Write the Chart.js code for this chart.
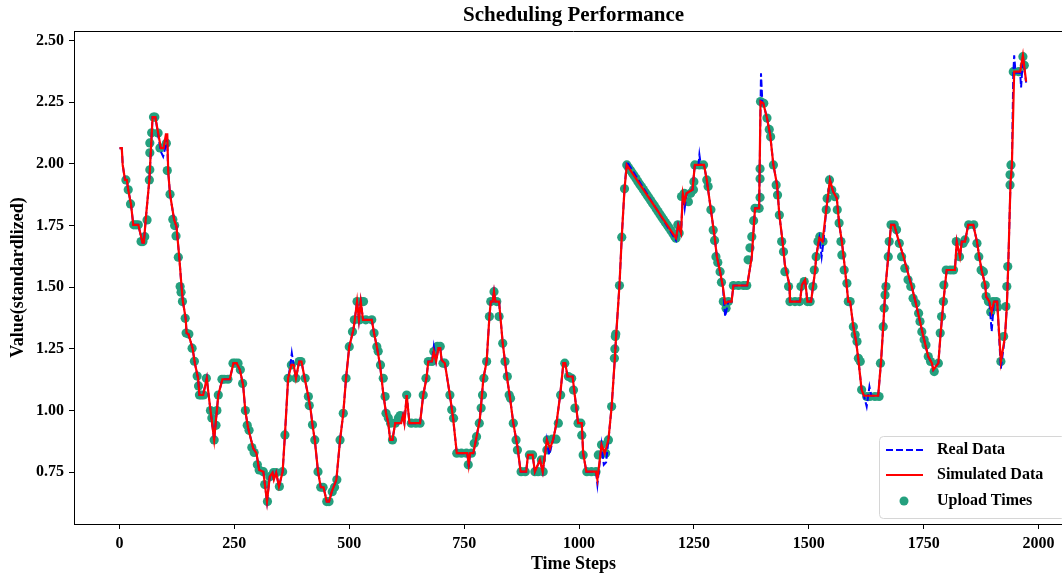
<!DOCTYPE html>
<html><head><meta charset="utf-8">
<script src="https://cdn.jsdelivr.net/npm/chart.js@4"></script>
<style>html,body{margin:0;padding:0;overflow:hidden;background:#fff;width:1062px;height:576px}#wrap{width:1080px;height:576px}</style>
</head><body><div id="wrap"><canvas id="c" width="1080" height="576"></canvas></div>
<script>
const TITLE = 'Scheduling Performance';
const X_LABEL = 'Time Steps';
const Y_LABEL = 'Value(standardlized)';
const xTicks = [0, 250, 500, 750, 1000, 1250, 1500, 1750, 2000];
const yTicks = [0.75, 1.00, 1.25, 1.50, 1.75, 2.00, 2.25, 2.50];

// [time step, value]
const simulatedData = [
[0,2.064],[5,2.064],[7,1.996],[12,1.935],[16,1.935],[19,1.895],[25,1.837],[30,1.753],[41,1.753],[50,1.681],[53,1.681],[57,1.773],[65,1.935],[72,2.19],[78,2.19],[90,2.064],[96,2.064],[101,2.12],[104,2.12],[106,1.969],[110,1.877],[119,1.773],[124,1.746],[130,1.624],[135,1.503],[138,1.442],[144,1.374],[146,1.314],[150,1.31],[159,1.253],[164,1.192],[171,1.131],[174,1.063],[182,1.063],[190,1.131],[194,1.063],[206,0.881],[215,1.063],[224,1.127],[240,1.127],[248,1.192],[255,1.192],[262,1.165],[269,1.104],[274,0.996],[280,0.928],[291,0.847],[298,0.827],[304,0.759],[313,0.752],[321,0.631],[327,0.732],[333,0.748],[336,0.72],[341,0.748],[347,0.692],[355,0.752],[360,0.901],[367,1.131],[374,1.185],[379,1.185],[384,1.131],[391,1.199],[396,1.199],[403,1.131],[411,1.057],[416,1.003],[420,0.942],[425,0.881],[432,0.752],[438,0.689],[444,0.689],[451,0.631],[456,0.631],[462,0.671],[472,0.719],[480,0.881],[487,0.989],[493,1.131],[500,1.259],[509,1.327],[512,1.368],[517,1.442],[521,1.368],[525,1.442],[530,1.368],[549,1.368],[554,1.314],[560,1.259],[567,1.185],[574,1.070],[580,0.989],[585,0.949],[589,0.881],[594,0.881],[600,0.949],[613,0.949],[617,0.98],[620,0.949],[625,1.063],[631,0.949],[654,0.949],[661,1.063],[668,1.131],[672,1.199],[680,1.199],[684,1.239],[689,1.20],[694,1.253],[698,1.253],[701,1.205],[708,1.192],[719,1.063],[726,0.969],[734,0.827],[757,0.827],[760,0.78],[763,0.827],[770,0.827],[777,0.894],[784,0.962],[792,1.131],[799,1.199],[805,1.381],[808,1.442],[812,1.442],[815,1.482],[818,1.442],[826,1.442],[834,1.273],[843,1.138],[850,1.050],[857,0.949],[866,0.854],[873,0.752],[885,0.752],[889,0.82],[899,0.82],[904,0.752],[915,0.80],[921,0.752],[930,0.881],[937,0.847],[944,0.884],[951,0.949],[959,1.063],[966,1.192],[970,1.192],[975,1.138],[986,1.138],[998,0.949],[1006,0.949],[1009,0.827],[1016,0.752],[1037,0.752],[1040,0.72],[1049,0.861],[1056,0.827],[1064,0.881],[1071,1.016],[1078,1.212],[1081,1.31],[1088,1.507],[1093,1.703],[1099,1.899],[1104,1.996],[1211,1.699],[1216,1.753],[1222,1.72],[1226,1.881],[1230,1.847],[1234,1.881],[1247,1.895],[1252,1.996],[1272,1.996],[1278,1.935],[1287,1.814],[1295,1.705],[1300,1.624],[1307,1.563],[1313,1.503],[1318,1.435],[1325,1.442],[1332,1.442],[1336,1.507],[1366,1.507],[1376,1.624],[1383,1.82],[1392,1.82],[1395,2.253],[1401,2.246],[1409,2.186],[1416,2.118],[1423,1.996],[1431,1.915],[1436,1.793],[1443,1.685],[1448,1.591],[1458,1.509],[1459,1.442],[1481,1.442],[1485,1.509],[1492,1.53],[1497,1.442],[1505,1.442],[1514,1.57],[1516,1.624],[1523,1.699],[1530,1.685],[1538,1.814],[1546,1.935],[1553,1.888],[1561,1.861],[1566,1.76],[1572,1.685],[1579,1.57],[1586,1.442],[1590,1.442],[1597,1.34],[1603,1.28],[1608,1.205],[1615,1.084],[1620,1.06],[1651,1.06],[1657,1.192],[1662,1.34],[1667,1.503],[1673,1.624],[1679,1.753],[1686,1.753],[1695,1.692],[1705,1.631],[1713,1.577],[1724,1.503],[1733,1.435],[1742,1.361],[1751,1.287],[1760,1.219],[1768,1.192],[1771,1.165],[1782,1.192],[1787,1.314],[1793,1.442],[1800,1.57],[1818,1.57],[1822,1.685],[1829,1.624],[1833,1.685],[1840,1.685],[1847,1.753],[1858,1.753],[1866,1.685],[1871,1.624],[1876,1.57],[1884,1.509],[1886,1.462],[1893,1.442],[1898,1.40],[1903,1.442],[1910,1.442],[1918,1.199],[1927,1.30],[1931,1.422],[1934,1.584],[1939,1.922],[1942,1.996],[1947,2.374],[1960,2.374],[1966,2.44],[1973,2.334]
];

const realData = [
[0,2.064],[5,2.064],[7,1.996],[12,1.935],[16,1.935],[19,1.895],[25,1.837],[30,1.753],[41,1.753],[50,1.681],[53,1.681],[57,1.773],[65,1.935],[72,2.19],[78,2.19],[84,2.12],[90,2.05],[95,2.03],[99,2.06],[103,2.125],[106,1.969],[110,1.877],[119,1.773],[124,1.746],[130,1.624],[135,1.503],[138,1.442],[144,1.374],[146,1.314],[150,1.31],[159,1.253],[164,1.192],[171,1.131],[174,1.063],[182,1.063],[190,1.131],[194,1.063],[206,0.881],[215,1.063],[224,1.127],[240,1.127],[248,1.192],[255,1.192],[262,1.165],[269,1.104],[274,0.996],[280,0.928],[291,0.847],[298,0.827],[304,0.759],[313,0.752],[321,0.631],[327,0.732],[333,0.748],[336,0.72],[341,0.748],[347,0.692],[355,0.752],[360,0.901],[367,1.131],[372,1.185],[375,1.233],[379,1.185],[384,1.131],[391,1.199],[396,1.199],[403,1.131],[411,1.057],[416,1.003],[420,0.942],[425,0.881],[432,0.752],[438,0.689],[444,0.689],[451,0.631],[456,0.631],[462,0.671],[472,0.719],[480,0.881],[487,0.989],[493,1.131],[500,1.259],[509,1.327],[512,1.368],[517,1.442],[521,1.368],[525,1.442],[530,1.368],[549,1.368],[554,1.314],[560,1.259],[567,1.185],[574,1.070],[580,0.989],[585,0.949],[589,0.881],[594,0.881],[600,0.949],[613,0.949],[617,0.98],[620,0.949],[625,1.063],[631,0.949],[654,0.949],[661,1.063],[668,1.131],[672,1.199],[680,1.199],[684,1.26],[689,1.20],[694,1.253],[698,1.253],[701,1.205],[708,1.192],[719,1.063],[726,0.969],[734,0.827],[757,0.827],[760,0.77],[763,0.827],[770,0.827],[777,0.894],[784,0.962],[792,1.131],[799,1.199],[805,1.381],[808,1.442],[812,1.442],[815,1.482],[818,1.442],[826,1.442],[834,1.273],[843,1.138],[850,1.050],[857,0.949],[866,0.854],[873,0.752],[885,0.752],[889,0.82],[899,0.82],[904,0.752],[915,0.80],[921,0.752],[930,0.881],[935,0.82],[944,0.884],[951,0.949],[959,1.063],[966,1.192],[970,1.192],[975,1.138],[986,1.138],[998,0.949],[1006,0.949],[1009,0.827],[1016,0.752],[1037,0.752],[1040,0.70],[1049,0.861],[1054,0.78],[1059,0.79],[1064,0.881],[1071,1.016],[1078,1.212],[1081,1.31],[1088,1.507],[1093,1.703],[1099,1.899],[1104,2.01],[1211,1.69],[1216,1.753],[1222,1.72],[1226,1.881],[1230,1.82],[1234,1.881],[1247,1.895],[1252,1.996],[1260,1.996],[1262,2.037],[1265,1.996],[1272,1.996],[1278,1.935],[1287,1.814],[1295,1.705],[1300,1.624],[1307,1.563],[1313,1.503],[1318,1.381],[1325,1.442],[1332,1.442],[1336,1.507],[1366,1.507],[1376,1.624],[1383,1.82],[1392,1.82],[1396,2.368],[1399,2.25],[1401,2.246],[1409,2.186],[1416,2.118],[1423,1.996],[1431,1.915],[1436,1.793],[1443,1.685],[1448,1.591],[1458,1.509],[1459,1.442],[1481,1.442],[1485,1.509],[1492,1.53],[1497,1.442],[1505,1.442],[1514,1.57],[1516,1.624],[1523,1.699],[1528,1.624],[1532,1.685],[1538,1.814],[1546,1.935],[1553,1.888],[1561,1.861],[1566,1.76],[1572,1.685],[1579,1.57],[1586,1.442],[1590,1.442],[1597,1.34],[1603,1.28],[1608,1.205],[1615,1.084],[1620,1.06],[1626,1.016],[1632,1.097],[1636,1.06],[1651,1.06],[1657,1.192],[1662,1.34],[1667,1.503],[1673,1.624],[1679,1.753],[1686,1.753],[1695,1.692],[1705,1.631],[1713,1.577],[1724,1.503],[1733,1.435],[1742,1.361],[1751,1.287],[1760,1.219],[1768,1.192],[1771,1.165],[1782,1.192],[1787,1.314],[1793,1.442],[1800,1.57],[1818,1.57],[1822,1.685],[1829,1.624],[1833,1.685],[1840,1.685],[1847,1.753],[1858,1.753],[1866,1.685],[1871,1.624],[1876,1.57],[1884,1.509],[1886,1.462],[1893,1.442],[1898,1.32],[1903,1.442],[1910,1.442],[1918,1.17],[1927,1.30],[1931,1.422],[1934,1.584],[1939,1.922],[1942,1.996],[1945,2.36],[1947,2.44],[1950,2.37],[1960,2.37],[1962,2.31],[1966,2.43],[1973,2.33]
];

const uploadTimes = [
[14,1.935],[19,1.895],[24,1.838],[31,1.753],[36,1.753],[41,1.753],[47,1.685],[51,1.685],[55,1.705],[60,1.773],[65,1.935],[66,1.976],[66,2.045],[66,2.085],[70,2.126],[74,2.19],[77,2.19],[84,2.125],[88,2.065],[102,2.084],[104,1.973],[110,1.877],[116,1.775],[120,1.75],[123,1.708],[128,1.622],[132,1.503],[134,1.48],[137,1.442],[143,1.374],[145,1.314],[151,1.31],[158,1.253],[163,1.20],[169,1.14],[172,1.10],[174,1.063],[178,1.063],[183,1.063],[189,1.131],[198,1.00],[201,0.97],[206,0.881],[210,0.94],[212,1.00],[215,1.063],[223,1.127],[228,1.127],[236,1.127],[247,1.192],[252,1.192],[258,1.192],[263,1.165],[268,1.11],[274,1.00],[278,0.94],[282,0.92],[288,0.85],[293,0.83],[300,0.78],[304,0.759],
[313,0.752],[316,0.70],[322,0.631],[327,0.732],[335,0.748],[341,0.748],[348,0.692],[355,0.752],[360,0.901],[367,1.131],[374,1.185],[384,1.131],[391,1.199],[395,1.199],[404,1.131],[411,1.057],[413,1.02],[420,0.942],[425,0.881],[432,0.752],[438,0.689],[443,0.689],[451,0.631],[456,0.631],[463,0.671],[468,0.689],[473,0.719],[480,0.881],[487,0.989],[493,1.131],[500,1.259],[507,1.32],[511,1.368],[517,1.442],[523,1.368],[527,1.442],[531,1.442],[536,1.368],[549,1.368],[554,1.314],[560,1.259],[563,1.24],[568,1.185],[574,1.131],[578,1.057],[580,0.989],[585,0.97],[590,0.949],[594,0.881],[600,0.949],[607,0.97],
[611,0.98],[625,1.063],[635,0.949],[645,0.949],[654,0.949],[661,1.063],[667,1.131],[672,1.199],[680,1.199],[684,1.239],[692,1.26],[698,1.26],[704,1.192],[708,1.192],[719,1.063],[723,1.003],[727,0.969],[734,0.827],[744,0.827],[755,0.827],[759,0.78],[766,0.827],[772,0.867],[777,0.894],[783,0.949],[787,1.01],[790,1.063],[793,1.131],[799,1.199],[805,1.381],[808,1.442],[815,1.482],[821,1.442],[826,1.381],[834,1.273],[839,1.199],[844,1.138],[848,1.063],[851,1.05],[857,0.949],[863,0.881],[866,0.84],[874,0.752],[883,0.752],[892,0.82],[899,0.82],[904,0.752],[911,0.752],[918,0.80],[922,0.752],[930,0.84],[931,0.881],[942,0.884],[950,0.884],[955,0.949],[960,1.063],[969,1.192],[977,1.138],[984,1.131],[988,1.083],[991,1.01],[998,0.949],[1004,0.949],[1006,0.90],[1009,0.82],[1017,0.752],[1027,0.752],[1037,0.752],[1042,0.82],[1049,0.861],[1058,0.827],[1064,0.881],[1071,1.016],[1077,1.212],[1078,1.25],[1079,1.30],[1080,1.31],[1088,1.507],[1093,1.703],[1099,1.899],[1104,1.996],
[1108,1.985],[1112,1.974],[1116,1.963],[1120,1.952],[1124,1.941],[1128,1.929],[1132,1.918],[1136,1.907],[1140,1.896],[1144,1.885],[1148,1.874],[1152,1.863],[1156,1.852],[1160,1.841],[1164,1.830],[1168,1.818],[1172,1.807],[1176,1.796],[1180,1.785],[1184,1.774],[1188,1.763],[1192,1.752],[1196,1.741],[1200,1.730],[1204,1.719],[1208,1.707],[1211,1.699],
[1215,1.753],[1218,1.72],[1223,1.868],[1229,1.881],[1238,1.847],[1243,1.881],[1249,1.895],[1250,1.928],[1252,1.996],[1262,1.996],[1271,1.996],[1278,1.935],[1281,1.908],[1287,1.814],[1292,1.732],[1295,1.69],[1298,1.624],[1302,1.60],[1307,1.563],[1310,1.52],[1314,1.442],[1320,1.415],[1325,1.442],[1336,1.507],[1347,1.507],[1358,1.507],[1365,1.507],[1368,1.611],[1372,1.66],[1376,1.705],[1380,1.77],[1383,1.82],[1392,1.82],[1394,1.864],[1394,1.94],[1394,1.98],
[1395,2.253],[1402,2.246],[1409,2.186],[1414,2.14],[1417,2.11],[1423,1.996],[1429,1.915],[1432,1.874],[1436,1.793],[1441,1.685],[1445,1.644],[1448,1.563],[1456,1.503],[1459,1.442],[1470,1.442],[1480,1.442],[1483,1.503],[1490,1.523],[1497,1.442],[1503,1.442],[1509,1.503],[1512,1.57],[1516,1.624],[1520,1.685],[1524,1.705],[1531,1.685],[1538,1.814],[1540,1.86],[1545,1.935],[1550,1.894],[1557,1.867],[1562,1.814],[1566,1.76],[1570,1.685],[1572,1.631],[1577,1.57],[1583,1.516],[1586,1.442],[1590,1.442],[1597,1.34],[1601,1.307],[1605,1.28],[1608,1.212],[1612,1.199],[1615,1.084],[1626,1.057],[1633,1.057],[1644,1.057],[1653,1.057],[1656,1.192],[1662,1.34],[1664,1.415],[1666,1.469],[1668,1.503],[1673,1.624],[1675,1.685],[1679,1.753],[1686,1.753],[1691,1.733],[1697,1.678],[1702,1.624],[1709,1.577],[1716,1.53],[1722,1.503],[1727,1.455],[1733,1.435],[1739,1.395],[1742,1.361],[1746,1.32],[1751,1.287],[1755,1.266],[1760,1.219],[1765,1.199],[1773,1.158],[1782,1.192],[1786,1.314],[1789,1.381],[1793,1.442],[1794,1.509],[1799,1.57],[1808,1.57],[1815,1.57],[1821,1.685],[1828,1.624],[1836,1.678],[1840,1.692],[1848,1.753],[1859,1.753],[1866,1.678],[1870,1.624],[1875,1.57],[1880,1.563],[1884,1.509],[1886,1.462],[1891,1.442],[1896,1.40],[1901,1.442],[1908,1.442],[1911,1.42],[1918,1.199],[1924,1.30],[1929,1.422],[1931,1.503],[1933,1.584],[1938,1.915],[1938,1.956],[1940,1.996],[1945,2.374],[1957,2.374],[1966,2.435],[1969,2.40]
];

const FONT = '"Liberation Serif", "Times New Roman", Times, serif';
const TEAL = 'rgb(36,160,126)';
const toPts = arr => arr.map(p => ({x: p[0], y: p[1]}));

const overlay = {
  id: 'overlay',
  afterDraw(chart) {
    const ctx = chart.ctx, a = chart.chartArea;
    ctx.save();
    ctx.strokeStyle = '#000'; ctx.lineWidth = 1;
    ctx.beginPath();
    ctx.moveTo(a.left, a.top + 0.5); ctx.lineTo(a.right, a.top + 0.5); ctx.lineTo(a.right, a.bottom);
    ctx.stroke();
    ctx.fillStyle = '#000'; ctx.textAlign = 'center'; ctx.textBaseline = 'middle';
    ctx.font = 'bold 21px ' + FONT;
    ctx.fillText(TITLE, (a.left + a.right) / 2, 16);
    ctx.font = 'bold 18px ' + FONT;
    ctx.fillText(X_LABEL, (a.left + a.right) / 2, 564);
    ctx.save(); ctx.translate(18, (a.top + a.bottom) / 2); ctx.rotate(-Math.PI / 2);
    ctx.fillText(Y_LABEL, 0, 0); ctx.restore();
    // legend
    const bx = 879, by = 436, bw = 186, bh = 82;
    ctx.beginPath();
    ctx.roundRect(bx + 0.5, by + 0.5, bw, bh, 4);
    ctx.fillStyle = 'rgba(255,255,255,0.85)'; ctx.fill();
    ctx.strokeStyle = '#d6d6d6'; ctx.lineWidth = 1; ctx.stroke();
    const rows = [450, 475, 501];
    ctx.strokeStyle = '#0000ff'; ctx.lineWidth = 2; ctx.setLineDash([7, 3]);
    ctx.beginPath(); ctx.moveTo(886, rows[0]); ctx.lineTo(923, rows[0]); ctx.stroke();
    ctx.setLineDash([]);
    ctx.strokeStyle = '#ff0000'; ctx.lineWidth = 2.2;
    ctx.beginPath(); ctx.moveTo(886, rows[1]); ctx.lineTo(923, rows[1]); ctx.stroke();
    ctx.fillStyle = TEAL; ctx.beginPath(); ctx.arc(904, rows[2], 4.5, 0, Math.PI * 2); ctx.fill();
    ctx.fillStyle = '#000'; ctx.textAlign = 'left'; ctx.font = 'bold 16px ' + FONT;
    ctx.fillText('Real Data', 937, rows[0]);
    ctx.fillText('Simulated Data', 937, rows[1]);
    ctx.fillText('Upload Times', 937, rows[2]);
    ctx.restore();
  }
};

const tickFont = {family: FONT, size: 16, weight: 'bold'};
new Chart(document.getElementById('c'), {
  type: 'scatter',
  data: {
    datasets: [
      {label: 'Simulated Data', data: toPts(simulatedData), showLine: true, borderColor: '#ff0000', borderWidth: 2.2, pointRadius: 0, tension: 0, order: 0},
      {label: 'Real Data', data: toPts(realData), showLine: true, borderColor: '#0000ff', borderWidth: 2, borderDash: [7, 3], pointRadius: 0, tension: 0, order: 1},
      {label: 'Upload Times', data: toPts(uploadTimes), showLine: false, pointRadius: 4.6, pointBackgroundColor: TEAL, pointBorderWidth: 0, order: 2}
    ]
  },
  options: {
    responsive: false, animation: false, devicePixelRatio: 1,
    layout: {padding: {top: 31, right: 7, left: 0, bottom: 0}},
    plugins: {legend: {display: false}, title: {display: false}, tooltip: {enabled: false}},
    scales: {
      x: {
        type: 'linear', min: -99, max: 2075,
        afterBuildTicks: s => { s.ticks = xTicks.map(v => ({value: v})); },
        afterFit: s => { s.height = 52; },
        ticks: {font: tickFont, color: '#000', padding: 5, maxRotation: 0, autoSkip: false, callback: v => String(v)},
        grid: {drawOnChartArea: false, drawTicks: true, tickLength: 5, color: '#000'},
        border: {display: true, color: '#000', width: 1}
      },
      y: {
        type: 'linear', min: 0.540, max: 2.539,
        afterBuildTicks: s => { s.ticks = yTicks.map(v => ({value: v})); },
        afterFit: s => { s.width = 74; },
        ticks: {font: tickFont, color: '#000', padding: 5, autoSkip: false, callback: v => Number(v).toFixed(2)},
        grid: {drawOnChartArea: false, drawTicks: true, tickLength: 5, color: '#000'},
        border: {display: true, color: '#000', width: 1}
      }
    }
  },
  plugins: [overlay]
});
</script>
</body></html>
